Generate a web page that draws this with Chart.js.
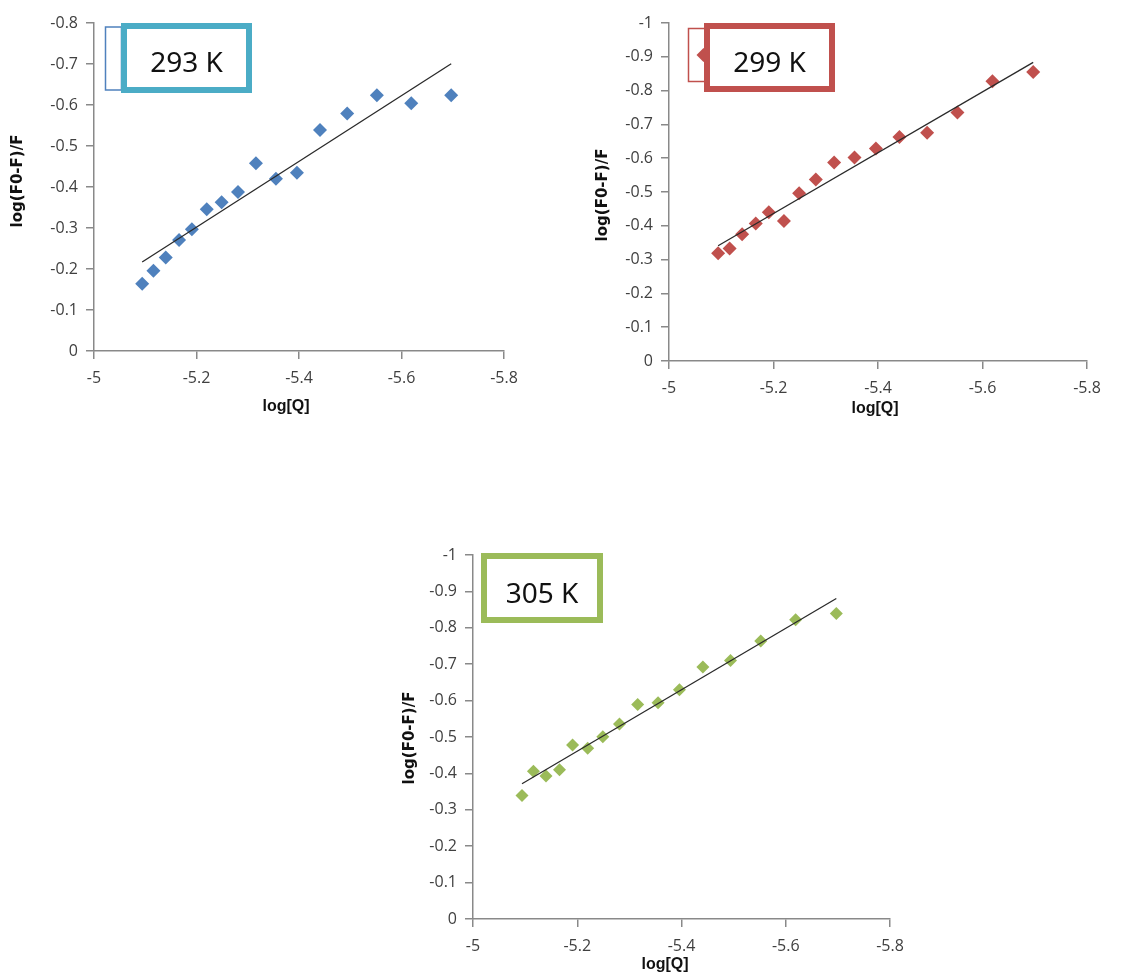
<!DOCTYPE html>
<html>
<head>
<meta charset="utf-8">
<title>log(F0-F)/F vs log[Q]</title>
<script src="https://cdn.jsdelivr.net/npm/chart.js@4.4.0/dist/chart.umd.min.js"></script>
<style>
  html, body { margin: 0; padding: 0; background: #ffffff; }
  body { width: 1131px; height: 978px; position: relative; overflow: hidden; }
  canvas { position: absolute; display: block; }
</style>
</head>
<body>
<canvas id="c293" width="560" height="430" style="left:0px;top:0px"></canvas>
<canvas id="c299" width="561" height="430" style="left:570px;top:0px"></canvas>
<canvas id="c305" width="600" height="448" style="left:380px;top:530px"></canvas>

<script>
// log of quencher concentration (same series for all three temperatures)
const logQ = [-5.094, -5.116, -5.140, -5.166, -5.191, -5.220, -5.249, -5.281,
              -5.316, -5.355, -5.396, -5.441, -5.494, -5.552, -5.619, -5.697];

// log((F0-F)/F) at each temperature
const quench293 = [-0.164, -0.196, -0.228, -0.271, -0.297, -0.346, -0.363, -0.388,
                   -0.458, -0.420, -0.435, -0.539, -0.579, -0.624, -0.604, -0.624];
const quench299 = [-0.319, -0.333, -0.375, -0.407, -0.440, -0.414, -0.496, -0.537,
                   -0.587, -0.602, -0.629, -0.663, -0.675, -0.735, -0.828, -0.855];
const quench305 = [-0.339, -0.406, -0.393, -0.410, -0.478, -0.469, -0.501, -0.536,
                   -0.589, -0.594, -0.630, -0.692, -0.710, -0.764, -0.822, -0.839];

// axis tick values
const xTicks = [-5, -5.2, -5.4, -5.6, -5.8];
const yTicks293 = [0, -0.1, -0.2, -0.3, -0.4, -0.5, -0.6, -0.7, -0.8];
const yTicks299 = [0, -0.1, -0.2, -0.3, -0.4, -0.5, -0.6, -0.7, -0.8, -0.9, -1];
const yTicks305 = [0, -0.1, -0.2, -0.3, -0.4, -0.5, -0.6, -0.7, -0.8, -0.9, -1];

const tempLabels = ['293 K', '299 K', '305 K'];
const yTitle = 'log(F0-F)/F';
const xTitle = 'log[Q]';

// least-squares straight line through a series, spanning its first and last x
function linearFit(xs, ys) {
  const n = xs.length;
  let sx = 0, sy = 0;
  for (let i = 0; i < n; i++) { sx += xs[i]; sy += ys[i]; }
  const mx = sx / n, my = sy / n;
  let sxy = 0, sxx = 0;
  for (let i = 0; i < n; i++) {
    sxy += (xs[i] - mx) * (ys[i] - my);
    sxx += (xs[i] - mx) * (xs[i] - mx);
  }
  const slope = sxy / sxx;
  const icpt = my - slope * mx;
  const x0 = xs[0], x1 = xs[n - 1];
  return [{ x: x0, y: icpt + slope * x0 }, { x: x1, y: icpt + slope * x1 }];
}

function fmt(v) {
  return String(Number(v.toFixed(2)));
}

const AXIS_GREY = '#898989';
const TICK_TEXT = '#404040';

// text box, partly covered legend and axis titles drawn on top of each panel
function decorPlugin(cfg) {
  return {
    id: 'panelDecor',
    afterDraw(chart) {
      const ctx = chart.ctx;
      ctx.save();
      // legend frame sitting behind the temperature box
      const lr = cfg.legendRect;
      if (lr) {
        ctx.strokeStyle = cfg.legendColor;
        ctx.lineWidth = 1.5;
        ctx.fillStyle = '#ffffff';
        ctx.fillRect(lr[0], lr[1], lr[2], lr[3]);
        ctx.strokeRect(lr[0], lr[1], lr[2], lr[3]);
        if (cfg.legendMarker) {
          const cx = lr[0] + 15, cy = lr[1] + lr[3] / 2, r = 7;
          ctx.fillStyle = cfg.legendColor;
          ctx.beginPath();
          ctx.moveTo(cx, cy - r); ctx.lineTo(cx + r, cy);
          ctx.lineTo(cx, cy + r); ctx.lineTo(cx - r, cy);
          ctx.closePath(); ctx.fill();
        }
      }
      // temperature box
      const b = cfg.box;
      ctx.fillStyle = '#ffffff';
      ctx.fillRect(b[0], b[1], b[2], b[3]);
      ctx.lineWidth = 6;
      ctx.strokeStyle = cfg.boxColor;
      ctx.strokeRect(b[0] + 3, b[1] + 3, b[2] - 6, b[3] - 6);
      ctx.fillStyle = '#111111';
      ctx.font = '28px "Noto Sans", "Open Sans", sans-serif';
      ctx.textAlign = 'center';
      ctx.textBaseline = 'middle';
      ctx.fillText(cfg.label, b[0] + b[2] / 2, b[1] + cfg.labelDy);

      // axis titles
      ctx.fillStyle = '#111111';
      ctx.font = 'bold 15px "DejaVu Sans", sans-serif';
      ctx.save();
      ctx.translate(cfg.yTitlePos[0], cfg.yTitlePos[1]);
      ctx.rotate(-Math.PI / 2);
      ctx.fillText(yTitle, 0, 0);
      ctx.restore();
      ctx.font = 'bold 16px "Liberation Sans", sans-serif';
      ctx.fillText(xTitle, cfg.xTitlePos[0], cfg.xTitlePos[1]);
      ctx.restore();
    }
  };
}

function makePanel(canvasId, ys, yTicks, color, radius, area, decor) {
  const canvas = document.getElementById(canvasId);
  const W = canvas.width, H = canvas.height;
  const xAxisH = 40;
  const pts = logQ.map((x, i) => ({ x: x, y: ys[i] }));
  return new Chart(canvas, {
    type: 'scatter',
    data: {
      datasets: [
        {
          label: decor.label,
          data: pts,
          pointStyle: 'rectRot',
          pointRadius: radius,
          pointHoverRadius: radius,
          backgroundColor: color,
          borderColor: color,
          borderWidth: 0,
          order: 2
        },
        {
          label: 'Linear fit',
          type: 'line',
          data: linearFit(logQ, ys),
          borderColor: '#2a2a2a',
          borderWidth: 1.3,
          pointRadius: 0,
          fill: false,
          order: 1
        }
      ]
    },
    options: {
      responsive: false,
      animation: false,
      events: [],
      layout: {
        padding: { left: 0, top: area.top, right: W - area.right, bottom: H - area.bottom - xAxisH }
      },
      plugins: {
        legend: { display: false },
        tooltip: { enabled: false },
        title: { display: false }
      },
      scales: {
        x: {
          type: 'linear',
          min: -5.8, max: -5,
          reverse: true,
          afterBuildTicks: s => { s.ticks = xTicks.map(v => ({ value: v })); },
          afterFit: s => { s.height = xAxisH; },
          ticks: {
            callback: v => fmt(v),
            color: TICK_TEXT,
            font: { family: '"Open Sans", sans-serif', size: 16 },
            padding: 10,
            maxRotation: 0,
            autoSkip: false
          },
          grid: { display: true, drawOnChartArea: false, drawTicks: true, tickLength: 8, color: AXIS_GREY, lineWidth: 1.5 },
          border: { display: true, color: AXIS_GREY, width: 1.5 }
        },
        y: {
          type: 'linear',
          min: yTicks[yTicks.length - 1], max: 0,
          reverse: true,
          afterBuildTicks: s => { s.ticks = yTicks.map(v => ({ value: v })); },
          afterFit: s => { s.width = area.left; },
          ticks: {
            callback: v => fmt(v),
            color: TICK_TEXT,
            font: { family: '"Open Sans", sans-serif', size: 16 },
            padding: 8,
            autoSkip: false
          },
          grid: { display: true, drawOnChartArea: false, drawTicks: true, tickLength: 8, color: AXIS_GREY, lineWidth: 1.5 },
          border: { display: true, color: AXIS_GREY, width: 1.5 }
        }
      }
    },
    plugins: [decorPlugin(decor)]
  });
}

makePanel('c293', quench293, yTicks293, '#4f81bd', 7,
  { left: 94, top: 23, right: 504, bottom: 351 },
  { legendColor: '#4f81bd', boxColor: '#4bacc6', legendRect: [105.5, 27, 16, 63], legendMarker: false,
    box: [121, 23, 131, 70], label: tempLabels[0], labelDy: 41,
    yTitlePos: [18, 181], xTitlePos: [286, 407] });

makePanel('c299', quench299, yTicks299, '#c0504d', 7,
  { left: 99, top: 23, right: 517, bottom: 361 },
  { legendColor: '#c0504d', boxColor: '#c0504d', legendRect: [118.5, 28.5, 17, 53], legendMarker: true,
    box: [134, 23, 131, 69], label: tempLabels[1], labelDy: 41,
    yTitlePos: [33, 195], xTitlePos: [305, 409] });

makePanel('c305', quench305, yTicks305, '#9bbb59', 6.5,
  { left: 93, top: 25, right: 510, bottom: 389 },
  { legendColor: '#9bbb59', boxColor: '#9bbb59', legendRect: null, legendMarker: false,
    box: [101, 23, 122, 70], label: tempLabels[2], labelDy: 42,
    yTitlePos: [30, 208], xTitlePos: [285, 435] });
</script>
</body>
</html>
